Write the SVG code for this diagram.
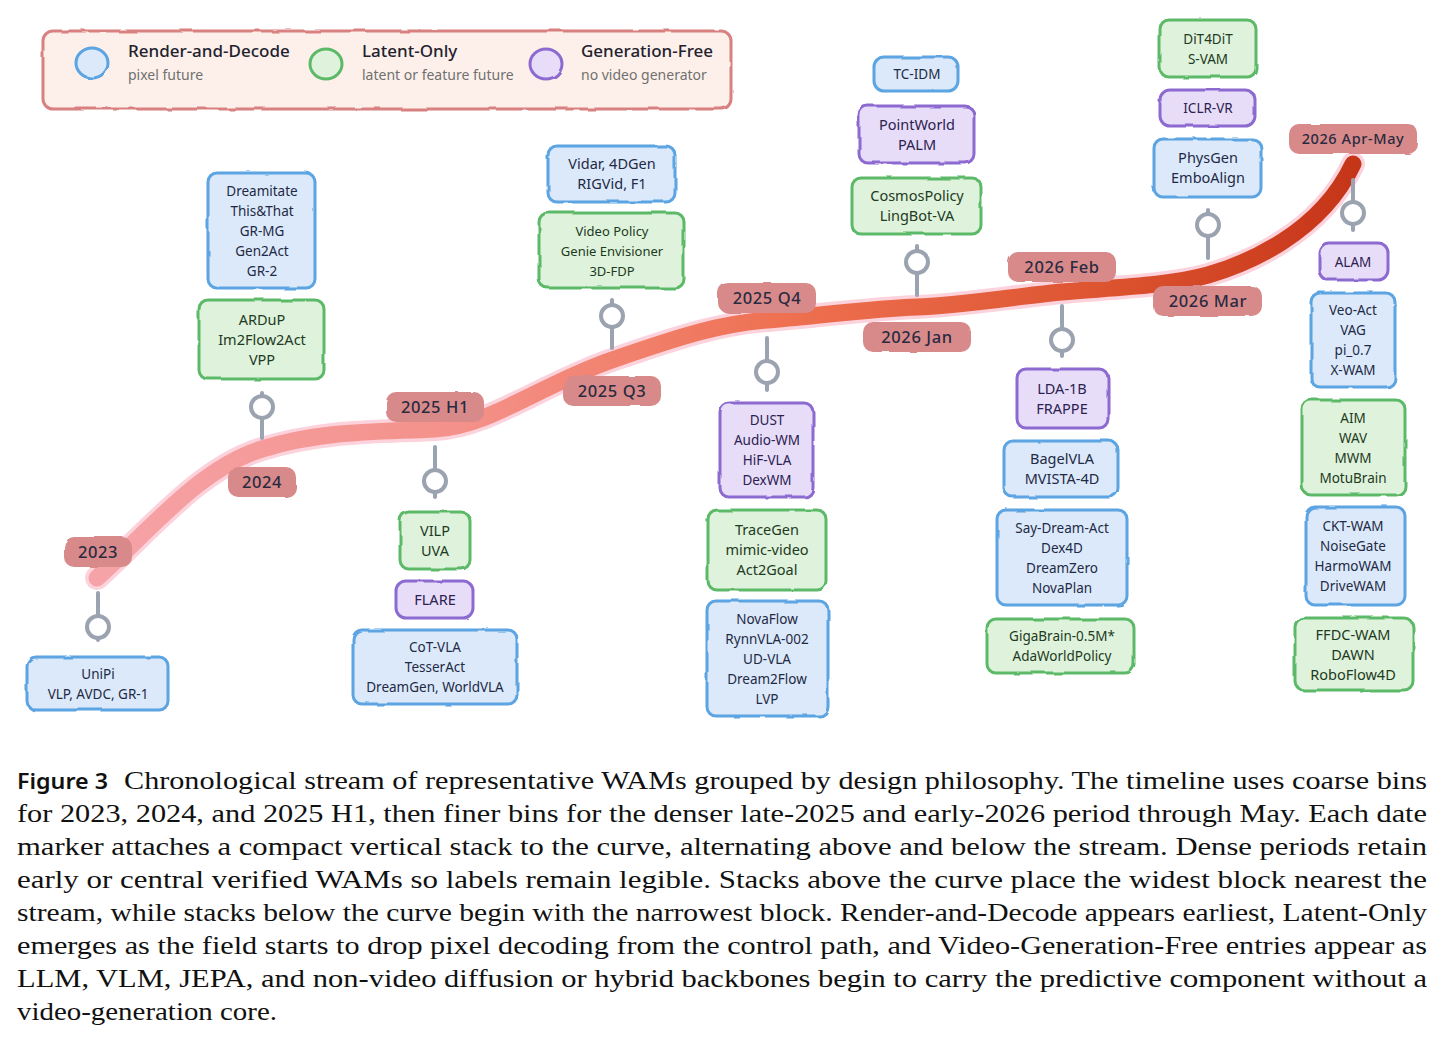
<svg xmlns="http://www.w3.org/2000/svg" width="1444" height="1040" viewBox="0 0 1444 1040">
<defs>
<linearGradient id="streamGrad" gradientUnits="userSpaceOnUse" x1="97" y1="0" x2="1355" y2="0">
<stop offset="0" stop-color="#f6a3a8"/>
<stop offset="0.3" stop-color="#f49088"/>
<stop offset="0.55" stop-color="#ee7050"/>
<stop offset="0.8" stop-color="#dd5430"/>
<stop offset="1" stop-color="#c53518"/>
</linearGradient>
<filter id="rough" x="-5%" y="-5%" width="110%" height="110%">
<feTurbulence type="fractalNoise" baseFrequency="0.04" numOctaves="2" seed="3"/>
<feDisplacementMap in="SourceGraphic" scale="3"/>
</filter>
</defs>
<style>
.bx{stroke-width:3;filter:url(#rough)}
.blue{fill:#dbe9fb;stroke:#5ba4e2}
.green{fill:#dff2dc;stroke:#5cb968}
.purple{fill:#e7ddf8;stroke:#8c6ad0}
.t{font-family:"Noto Sans","DejaVu Sans",sans-serif;font-size:13.5px;text-anchor:middle}
.tb{fill:#1f2a44}
.tg{fill:#1d3a22}
.tp{fill:#2c2150}
.date rect{fill:#d88a8a;filter:url(#rough)}
.date text{font-family:"Noto Sans","DejaVu Sans",sans-serif;font-size:16.5px;font-weight:500;fill:#2a2a40;text-anchor:middle;letter-spacing:0.6px}
.stem{stroke:#9ba3b0;stroke-width:4;fill:none;stroke-linecap:round}
.knob{stroke:#9ba3b0;stroke-width:4;fill:#ffffff}
.lgh{font-family:"Noto Sans","DejaVu Sans",sans-serif;font-size:17px;font-weight:500;fill:#22222e}
.lgs{font-family:"Noto Sans","DejaVu Sans",sans-serif;font-size:14px;fill:#707070}
.cap{font-family:"Liberation Serif","Times New Roman",serif;font-size:26px;fill:#111}
</style>
<rect width="1444" height="1040" fill="#ffffff"/>

<g id="legend">
<rect x="43" y="31" width="688" height="78" rx="10" fill="#fdf0ea" stroke="#d98080" stroke-width="3" filter="url(#rough)"/>
<ellipse cx="92" cy="63" rx="16" ry="15" class="bx blue" stroke-width="4"/>
<text x="128" y="57" class="lgh">Render-and-Decode</text>
<text x="128" y="80" class="lgs">pixel future</text>
<ellipse cx="326" cy="64" rx="16" ry="15" class="bx green" stroke-width="4"/>
<text x="362" y="57" class="lgh">Latent-Only</text>
<text x="362" y="80" class="lgs">latent or feature future</text>
<ellipse cx="546" cy="64" rx="16" ry="15" class="bx purple" stroke-width="4"/>
<text x="581" y="57" class="lgh">Generation-Free</text>
<text x="581" y="80" class="lgs">no video generator</text>
</g>

<g id="stream">
<path d="M97,578 C150,530 200,468 262,449 S380,432 435,429 S540,385 612,360 S720,324 767,320 S880,308 917,307 S1020,296 1062,292 S1170,286 1208,275 S1320,234 1353,164" fill="none" stroke="#fcd3dc" stroke-width="24" stroke-linecap="round"/>
<path d="M97,578 C150,530 200,468 262,449 S380,432 435,429 S540,385 612,360 S720,324 767,320 S880,308 917,307 S1020,296 1062,292 S1170,286 1208,275 S1320,234 1353,164" fill="none" stroke="url(#streamGrad)" stroke-width="17" stroke-linecap="round"/>
</g>

<g id="connectors">
<line x1="98" y1="593" x2="98" y2="640" class="stem"/><circle cx="98" cy="627" r="11" class="knob"/>
<line x1="262" y1="393" x2="262" y2="438" class="stem"/><circle cx="262" cy="407" r="11" class="knob"/>
<line x1="435" y1="447" x2="435" y2="497" class="stem"/><circle cx="435" cy="481" r="11" class="knob"/>
<line x1="612" y1="300" x2="612" y2="348" class="stem"/><circle cx="612" cy="316" r="11" class="knob"/>
<line x1="767" y1="338" x2="767" y2="390" class="stem"/><circle cx="767" cy="372" r="11" class="knob"/>
<line x1="917" y1="246" x2="917" y2="295" class="stem"/><circle cx="917" cy="262" r="11" class="knob"/>
<line x1="1062" y1="306" x2="1062" y2="356" class="stem"/><circle cx="1062" cy="340" r="11" class="knob"/>
<line x1="1208" y1="210" x2="1208" y2="258" class="stem"/><circle cx="1208" cy="225" r="11" class="knob"/>
<line x1="1353" y1="180" x2="1353" y2="230" class="stem"/><circle cx="1353" cy="213" r="11" class="knob"/>
</g>

<g id="date-2023" class="date"><rect x="64" y="537" width="68" height="30" rx="10"/><text x="98" y="558">2023</text></g>
<g id="date-2024" class="date"><rect x="228" y="467" width="68" height="30" rx="10"/><text x="262" y="488">2024</text></g>
<g id="date-2025H1" class="date"><rect x="386" y="392" width="98" height="30" rx="10"/><text x="435" y="413">2025 H1</text></g>
<g id="date-2025Q3" class="date"><rect x="563" y="376" width="98" height="30" rx="10"/><text x="612" y="397">2025 Q3</text></g>
<g id="date-2025Q4" class="date"><rect x="718" y="283" width="98" height="30" rx="10"/><text x="767" y="304">2025 Q4</text></g>
<g id="date-2026Jan" class="date"><rect x="863" y="322" width="108" height="30" rx="10"/><text x="917" y="343">2026 Jan</text></g>
<g id="date-2026Feb" class="date"><rect x="1008" y="252" width="108" height="30" rx="10"/><text x="1062" y="273">2026 Feb</text></g>
<g id="date-2026Mar" class="date"><rect x="1153" y="286" width="109" height="30" rx="10"/><text x="1208" y="307">2026 Mar</text></g>
<g id="date-2026AprMay" class="date"><rect x="1289" y="124" width="129" height="30" rx="10"/><text x="1353" y="144" style="font-size:14.5px">2026 Apr-May</text></g>

<g id="n2023-render">
<rect x="27" y="657" width="141" height="53" rx="9" class="bx blue"/>
<text class="t tb" x="98" y="678.5">UniPi</text>
<text class="t tb" x="98" y="698.5">VLP, AVDC, GR-1</text>
</g>

<g id="n2024-render">
<rect x="208" y="173" width="107" height="115" rx="9" class="bx blue"/>
<text class="t tb" x="262" y="195.5">Dreamitate</text>
<text class="t tb" x="262" y="215.5">This&amp;That</text>
<text class="t tb" x="262" y="235.5">GR-MG</text>
<text class="t tb" x="262" y="255.5">Gen2Act</text>
<text class="t tb" x="262" y="275.5">GR-2</text>
</g>
<g id="n2024-latent">
<rect x="199" y="300" width="125" height="79" rx="9" class="bx green"/>
<text class="t tg" x="262" y="324.5" style="font-size:14.5px">ARDuP</text>
<text class="t tg" x="262" y="344.5" style="font-size:14.5px">Im2Flow2Act</text>
<text class="t tg" x="262" y="364.5" style="font-size:14.5px">VPP</text>
</g>

<g id="n2025H1-latent">
<rect x="400" y="512" width="70" height="57" rx="9" class="bx green"/>
<text class="t tg" x="435" y="535.5" style="font-size:14.5px">VILP</text>
<text class="t tg" x="435" y="555.5" style="font-size:14.5px">UVA</text>
</g>
<g id="n2025H1-free">
<rect x="396" y="581" width="77" height="37" rx="10" class="bx purple"/>
<text class="t tp" x="435" y="604.5" style="font-size:14.5px">FLARE</text>
</g>
<g id="n2025H1-render">
<rect x="353" y="630" width="164" height="74" rx="9" class="bx blue"/>
<text class="t tb" x="435" y="652">CoT-VLA</text>
<text class="t tb" x="435" y="672">TesserAct</text>
<text class="t tb" x="435" y="692">DreamGen, WorldVLA</text>
</g>

<g id="n2025Q3-render">
<rect x="548" y="146" width="127" height="56" rx="9" class="bx blue"/>
<text class="t tb" x="612" y="169" style="font-size:14.5px">Vidar, 4DGen</text>
<text class="t tb" x="612" y="189" style="font-size:14.5px">RIGVid, F1</text>
</g>
<g id="n2025Q3-latent">
<rect x="539" y="213" width="145" height="75" rx="9" class="bx green"/>
<text class="t tg" x="612" y="235.5" style="font-size:13px">Video Policy</text>
<text class="t tg" x="612" y="255.5" style="font-size:13px">Genie Envisioner</text>
<text class="t tg" x="612" y="275.5" style="font-size:13px">3D-FDP</text>
</g>

<g id="n2025Q4-free">
<rect x="720" y="403" width="93" height="94" rx="9" class="bx purple"/>
<text class="t tp" x="767" y="425">DUST</text>
<text class="t tp" x="767" y="445">Audio-WM</text>
<text class="t tp" x="767" y="465">HiF-VLA</text>
<text class="t tp" x="767" y="485">DexWM</text>
</g>
<g id="n2025Q4-latent">
<rect x="708" y="510" width="118" height="80" rx="9" class="bx green"/>
<text class="t tg" x="767" y="535" style="font-size:14.5px">TraceGen</text>
<text class="t tg" x="767" y="555" style="font-size:14.5px">mimic-video</text>
<text class="t tg" x="767" y="575" style="font-size:14.5px">Act2Goal</text>
</g>
<g id="n2025Q4-render">
<rect x="707" y="601" width="121" height="115" rx="9" class="bx blue"/>
<text class="t tb" x="767" y="623.5">NovaFlow</text>
<text class="t tb" x="767" y="643.5">RynnVLA-002</text>
<text class="t tb" x="767" y="663.5">UD-VLA</text>
<text class="t tb" x="767" y="683.5">Dream2Flow</text>
<text class="t tb" x="767" y="703.5">LVP</text>
</g>

<g id="n2026Jan-render">
<rect x="874" y="57" width="84" height="34" rx="10" class="bx blue"/>
<text class="t tb" x="917" y="79">TC-IDM</text>
</g>
<g id="n2026Jan-free">
<rect x="859" y="106" width="115" height="57" rx="9" class="bx purple"/>
<text class="t tp" x="917" y="129.5" style="font-size:14.5px">PointWorld</text>
<text class="t tp" x="917" y="149.5" style="font-size:14.5px">PALM</text>
</g>
<g id="n2026Jan-latent">
<rect x="852" y="178" width="129" height="56" rx="9" class="bx green"/>
<text class="t tg" x="917" y="201" style="font-size:14.5px">CosmosPolicy</text>
<text class="t tg" x="917" y="221" style="font-size:14.5px">LingBot-VA</text>
</g>

<g id="n2026Feb-free">
<rect x="1017" y="369" width="91" height="59" rx="9" class="bx purple"/>
<text class="t tp" x="1062" y="393.5" style="font-size:14.5px">LDA-1B</text>
<text class="t tp" x="1062" y="413.5" style="font-size:14.5px">FRAPPE</text>
</g>
<g id="n2026Feb-render1">
<rect x="1004" y="441" width="114" height="56" rx="9" class="bx blue"/>
<text class="t tb" x="1062" y="464" style="font-size:14.5px">BagelVLA</text>
<text class="t tb" x="1062" y="484" style="font-size:14.5px">MVISTA-4D</text>
</g>
<g id="n2026Feb-render2">
<rect x="997" y="510" width="130" height="95" rx="9" class="bx blue"/>
<text class="t tb" x="1062" y="532.5">Say-Dream-Act</text>
<text class="t tb" x="1062" y="552.5">Dex4D</text>
<text class="t tb" x="1062" y="572.5">DreamZero</text>
<text class="t tb" x="1062" y="592.5">NovaPlan</text>
</g>
<g id="n2026Feb-latent">
<rect x="987" y="619" width="147" height="54" rx="9" class="bx green"/>
<text class="t tg" x="1062" y="641">GigaBrain-0.5M*</text>
<text class="t tg" x="1062" y="661">AdaWorldPolicy</text>
</g>

<g id="n2026Mar-latent">
<rect x="1160" y="20" width="96" height="57" rx="9" class="bx green"/>
<text class="t tg" x="1208" y="43.5">DiT4DiT</text>
<text class="t tg" x="1208" y="63.5">S-VAM</text>
</g>
<g id="n2026Mar-free">
<rect x="1160" y="90" width="95" height="36" rx="10" class="bx purple"/>
<text class="t tp" x="1208" y="113">ICLR-VR</text>
</g>
<g id="n2026Mar-render">
<rect x="1154" y="139" width="107" height="58" rx="9" class="bx blue"/>
<text class="t tb" x="1208" y="163" style="font-size:14.5px">PhysGen</text>
<text class="t tb" x="1208" y="183" style="font-size:14.5px">EmboAlign</text>
</g>

<g id="n2026AprMay-free">
<rect x="1319" y="243" width="69" height="37" rx="10" class="bx purple"/>
<text class="t tp" x="1353" y="266.5">ALAM</text>
</g>
<g id="n2026AprMay-render1">
<rect x="1311" y="293" width="84" height="94" rx="9" class="bx blue"/>
<text class="t tb" x="1353" y="315">Veo-Act</text>
<text class="t tb" x="1353" y="335">VAG</text>
<text class="t tb" x="1353" y="355">pi_0.7</text>
<text class="t tb" x="1353" y="375">X-WAM</text>
</g>
<g id="n2026AprMay-latent1">
<rect x="1302" y="400" width="103" height="95" rx="9" class="bx green"/>
<text class="t tg" x="1353" y="422.5">AIM</text>
<text class="t tg" x="1353" y="442.5">WAV</text>
<text class="t tg" x="1353" y="462.5">MWM</text>
<text class="t tg" x="1353" y="482.5">MotuBrain</text>
</g>
<g id="n2026AprMay-render2">
<rect x="1306" y="507" width="99" height="98" rx="9" class="bx blue"/>
<text class="t tb" x="1353" y="531">CKT-WAM</text>
<text class="t tb" x="1353" y="551">NoiseGate</text>
<text class="t tb" x="1353" y="571">HarmoWAM</text>
<text class="t tb" x="1353" y="591">DriveWAM</text>
</g>
<g id="n2026AprMay-latent2">
<rect x="1295" y="618" width="118" height="72" rx="9" class="bx green"/>
<text class="t tg" x="1353" y="640" style="font-size:14.5px">FFDC-WAM</text>
<text class="t tg" x="1353" y="660" style="font-size:14.5px">DAWN</text>
<text class="t tg" x="1353" y="680" style="font-size:14.5px">RoboFlow4D</text>
</g>

<g id="caption">
<text x="17" y="789" font-family="'Noto Sans','DejaVu Sans',sans-serif" font-size="21" font-weight="600" fill="#111" textLength="91" lengthAdjust="spacingAndGlyphs">Figure 3</text>
<text class="cap" x="124" y="789" textLength="1303" lengthAdjust="spacingAndGlyphs">Chronological stream of representative WAMs grouped by design philosophy. The timeline uses coarse bins</text>
<text class="cap" x="17" y="822" textLength="1410" lengthAdjust="spacingAndGlyphs">for 2023, 2024, and 2025 H1, then finer bins for the denser late-2025 and early-2026 period through May. Each date</text>
<text class="cap" x="17" y="855" textLength="1410" lengthAdjust="spacingAndGlyphs">marker attaches a compact vertical stack to the curve, alternating above and below the stream. Dense periods retain</text>
<text class="cap" x="17" y="888" textLength="1410" lengthAdjust="spacingAndGlyphs">early or central verified WAMs so labels remain legible. Stacks above the curve place the widest block nearest the</text>
<text class="cap" x="17" y="921" textLength="1410" lengthAdjust="spacingAndGlyphs">stream, while stacks below the curve begin with the narrowest block. Render-and-Decode appears earliest, Latent-Only</text>
<text class="cap" x="17" y="954" textLength="1410" lengthAdjust="spacingAndGlyphs">emerges as the field starts to drop pixel decoding from the control path, and Video-Generation-Free entries appear as</text>
<text class="cap" x="17" y="987" textLength="1410" lengthAdjust="spacingAndGlyphs">LLM, VLM, JEPA, and non-video diffusion or hybrid backbones begin to carry the predictive component without a</text>
<text class="cap" x="17" y="1020" textLength="260" lengthAdjust="spacingAndGlyphs">video-generation core.</text>
</g>
</svg>
